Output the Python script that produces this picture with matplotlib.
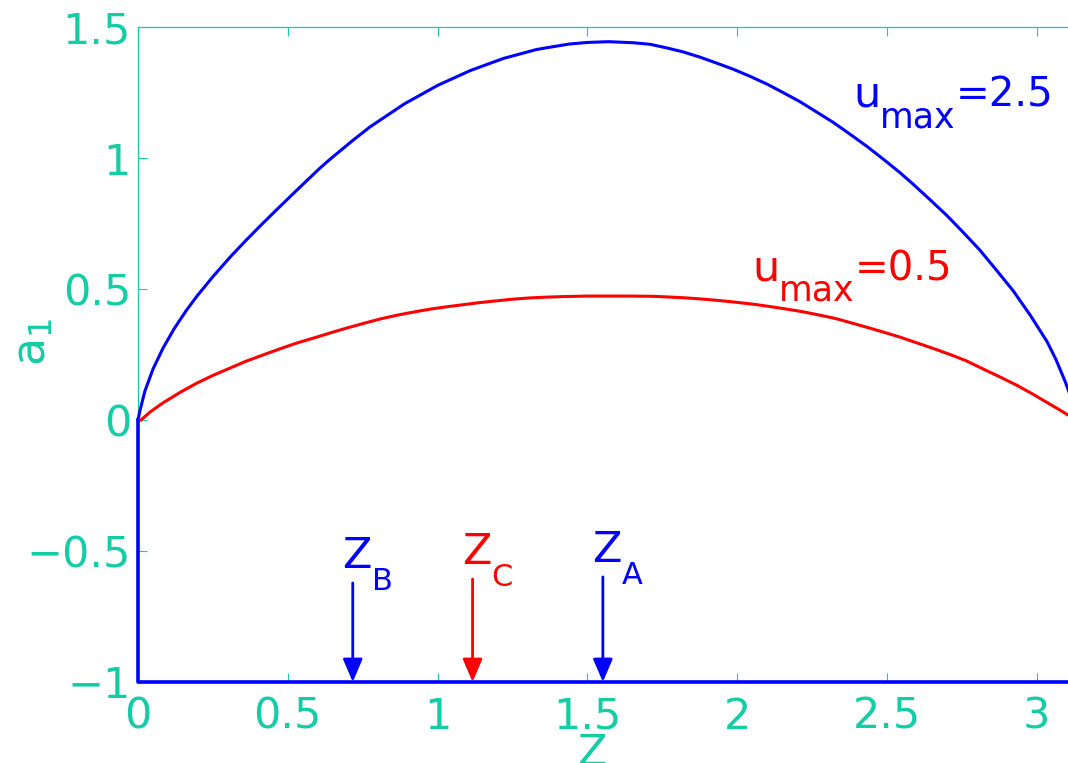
import numpy as np
import matplotlib
matplotlib.use("Agg")
import matplotlib.pyplot as plt

# a1 along Z for u_max = 2.5
z_big = [0.000, 0.007, 0.023, 0.050, 0.083, 0.120, 0.160, 0.197, 0.250, 0.307,
         0.360, 0.417, 0.475, 0.531, 0.608, 0.641, 0.718, 0.775, 0.831, 0.890,
         0.942, 1.000, 1.052, 1.110, 1.165, 1.220, 1.275, 1.330, 1.386, 1.440,
         1.499, 1.571, 1.653, 1.710, 1.766, 1.820, 1.876, 1.930, 1.987, 2.045,
         2.100, 2.155, 2.210, 2.265, 2.321, 2.377, 2.434, 2.490, 2.544, 2.588,
         2.645, 2.701, 2.756, 2.811, 2.866, 2.922, 2.980, 3.035, 3.065, 3.095,
         3.120, 3.1416]
a1_big = [0.000, 0.038, 0.110, 0.194, 0.273, 0.347, 0.416, 0.473, 0.547, 0.621,
          0.685, 0.751, 0.816, 0.878, 0.962, 0.995, 1.068, 1.119, 1.162, 1.207,
          1.240, 1.277, 1.304, 1.334, 1.357, 1.380, 1.397, 1.414, 1.425, 1.435,
          1.441, 1.444, 1.440, 1.434, 1.420, 1.405, 1.385, 1.363, 1.339, 1.311,
          1.282, 1.249, 1.215, 1.176, 1.136, 1.091, 1.044, 0.994, 0.944, 0.900,
          0.840, 0.780, 0.715, 0.648, 0.572, 0.493, 0.398, 0.299, 0.230, 0.148,
          0.070, 0.000]

# a1 along Z for u_max = 0.5
z_small = [0.010, 0.040, 0.083, 0.140, 0.197, 0.250, 0.307, 0.360, 0.417, 0.475,
           0.531, 0.590, 0.641, 0.700, 0.751, 0.810, 0.865, 0.920, 0.975, 1.030,
           1.085, 1.140, 1.199, 1.250, 1.309, 1.365, 1.419, 1.500, 1.571, 1.650,
           1.720, 1.780, 1.830, 1.890, 1.940, 2.000, 2.060, 2.110, 2.167, 2.220,
           2.277, 2.330, 2.377, 2.430, 2.487, 2.545, 2.601, 2.655, 2.711, 2.765,
           2.821, 2.880, 2.935, 2.990, 3.045, 3.075, 3.102, 3.1416]
a1_small = [0.000, 0.030, 0.065, 0.105, 0.141, 0.170, 0.198, 0.224, 0.248, 0.272,
            0.294, 0.314, 0.332, 0.352, 0.368, 0.386, 0.400, 0.412, 0.423, 0.432,
            0.440, 0.448, 0.455, 0.461, 0.466, 0.469, 0.471, 0.473, 0.473, 0.473,
            0.472, 0.469, 0.466, 0.461, 0.456, 0.449, 0.441, 0.433, 0.423, 0.413,
            0.400, 0.387, 0.372, 0.355, 0.336, 0.316, 0.294, 0.273, 0.250, 0.226,
            0.195, 0.163, 0.132, 0.097, 0.060, 0.040, 0.021, 0.000]

# closing edges of the u_max=2.5 region
edge_z = [3.1416, 3.1416, 0.0, 0.0]
edge_a1 = [0.0, -1.0, -1.0, 0.0]

# marked positions on the Z axis
z_marks = [0.717, 1.117, 1.552]
z_names = ["B", "C", "A"]
z_colors = ["#0000ff", "#ff0000", "#0000ff"]
arrow_tops = [-0.622, -0.607, -0.599]

amp_labels = ["2.5", "0.5"]
amp_colors = ["#0000ff", "#ff0000"]
amp_pos = [(2.387, 1.195), (2.05, 0.534)]

xticks = [0, 0.5, 1, 1.5, 2, 2.5, 3]
xticklabels = ["0", "0.5", "1", "1.5", "2", "2.5", "3"]
yticks = [-1, -0.5, 0, 0.5, 1, 1.5]
yticklabels = ["\u22121", "\u22120.5", "0", "0.5", "1", "1.5"]

TEAL = "#14cca6"
plt.rcParams["font.family"] = ["DejaVu Sans"]


def sub_text(ax, x, y, base, sub, tail, color, sizes, drop):
    """Base text with a lowered subscript and an optional tail on the baseline."""
    t0 = ax.text(x, y, base, color=color, fontsize=sizes[0],
                 ha="left", va="baseline")
    t1 = ax.annotate(sub, xy=(1, y), xycoords=(t0, ax.transData),
                     xytext=(0, -drop), textcoords="offset points",
                     color=color, fontsize=sizes[1], ha="left", va="baseline")
    if tail:
        ax.annotate(tail, xy=(1, y), xycoords=(t1, ax.transData),
                    xytext=(0, 0), textcoords="offset points",
                    color=color, fontsize=sizes[2], ha="left", va="baseline")


fig = plt.figure(figsize=(10.68, 7.63), dpi=100)
ax = fig.add_axes([0.1292, 0.1062, 0.8811, 0.8584])

ax.plot(z_big, a1_big, color="#0000ff", lw=2.2, clip_on=False, zorder=3)
ax.plot(edge_z, edge_a1, color="#0000ff", lw=2.6, clip_on=False, zorder=3)
ax.plot(z_small, a1_small, color="#ff0000", lw=2.2, clip_on=False, zorder=3)

for zx, name, col, top in zip(z_marks, z_names, z_colors, arrow_tops):
    ax.annotate("", xy=(zx, -1.0), xytext=(zx, top),
                arrowprops=dict(arrowstyle="-|>,head_length=0.7,head_width=0.3",
                                mutation_scale=20, color=col, lw=2.0,
                                shrinkA=0, shrinkB=0))
    sub_text(ax, zx - 0.035, top + 0.057, "Z", name, "", col, (31, 22, 22), 16)

for lab, col, (px, py) in zip(amp_labels, amp_colors, amp_pos):
    sub_text(ax, px, py, "u", "max", "=" + lab, col, (31, 25, 29), 15)

ax.set_xlim(0, np.pi)
ax.set_ylim(-1, 1.5)
ax.set_xticks(xticks)
ax.set_xticklabels(xticklabels)
ax.set_yticks(yticks)
ax.set_yticklabels(yticklabels)
ax.tick_params(axis="both", direction="in", length=6.5, width=0.8,
               color=TEAL, labelcolor=TEAL, labelsize=31,
               top=True, right=True)
ax.tick_params(axis="x", pad=10)
ax.tick_params(axis="y", pad=5)
for sp in ax.spines.values():
    sp.set_color(TEAL)
    sp.set_linewidth(0.9)

ax.text(0.4825, -0.0763, "Z", transform=ax.transAxes, color=TEAL,
        fontsize=31, ha="center", va="top")
ax.text(-0.1116, 0.519, r"a$_\mathregular{1}$", transform=ax.transAxes,
        color=TEAL, fontsize=33, rotation=90, ha="center", va="center")

fig.savefig("out.png", dpi=100)
